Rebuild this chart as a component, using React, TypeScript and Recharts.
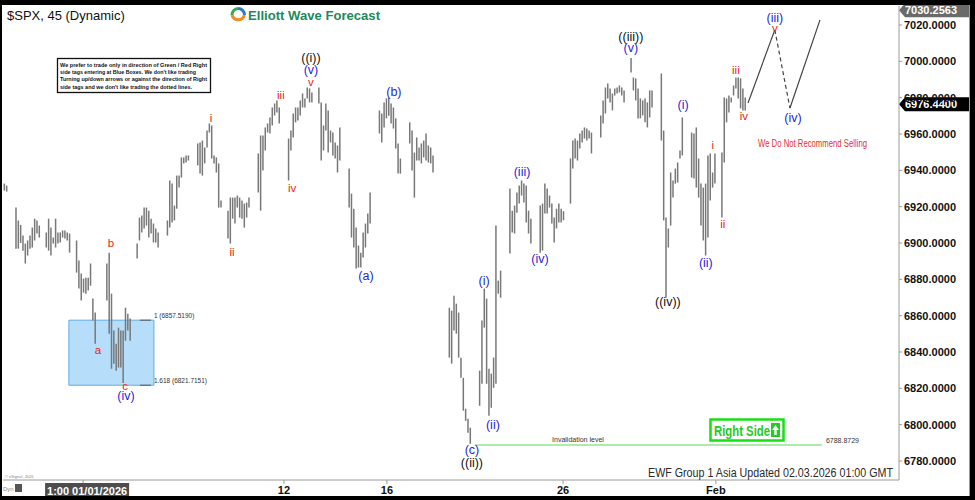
import {
  ComposedChart,
  Bar,
  Line,
  Scatter,
  XAxis,
  YAxis,
  ReferenceArea,
  ReferenceLine,
} from "recharts";

const FONT = '"Liberation Sans", Arial, Helvetica, sans-serif';

// 45 min bars, one row per session (highs / lows)
const highs: number[][] = [
  [6932.7, 6931.6],
  [6919.5, 6912.4, 6910.0, 6904.1, 6899.7, 6901.4, 6904.1, 6908.5, 6913.4, 6912.4, 6909.6],
  [6905.8, 6913.4, 6908.5, 6903.0, 6913.4, 6905.8, 6905.8, 6906.9, 6906.9, 6905.8, 6905.2],
  [6901.4, 6890.3, 6883.2, 6880.4, 6880.9, 6880.9, 6888.7, 6869.4, 6861.7],
  [6888.7, 6894.7, 6872.1, 6851.9, 6844.6, 6853.4, 6851.9, 6851.9, 6864.4, 6861.1, 6858.4],
  [6899.7, 6914.0, 6915.1, 6919.5, 6919.5, 6917.8, 6913.4, 6910.7, 6908.0, 6905.8],
  [6912.4, 6934.4, 6932.7, 6920.6, 6937.1, 6937.1, 6947.1, 6947.1, 6948.2, 6948.2],
  [6954.8, 6955.3, 6956.4, 6952.6, 6961.9, 6965.8, 6964.7, 6948.2, 6947.1, 6943.8, 6923.4],
  [6917.8, 6925.0, 6925.0, 6925.0, 6926.1, 6925.0, 6923.4, 6921.7, 6922.3, 6925.0],
  [6949.3, 6959.2, 6959.2, 6963.6, 6965.8, 6969.1, 6974.6, 6976.8, 6978.5, 6974.6],
  [6957.5, 6961.9, 6971.3, 6974.6, 6974.6, 6978.5, 6982.3, 6979.6, 6985.6, 6985.1, 6982.9],
  [6985.6, 6977.4, 6964.7, 6976.8, 6973.0, 6961.9, 6960.8, 6955.3, 6953.7, 6963.6],
  [6941.0, 6927.2, 6918.9, 6908.5, 6898.6, 6894.7, 6905.8, 6910.7, 6916.2, 6927.8],
  [6973.0, 6971.3, 6977.4, 6979.6, 6980.0, 6976.8, 6974.6, 6968.6, 6954.8, 6946.5],
  [6966.4, 6961.9, 6949.8, 6958.1, 6952.6, 6954.8, 6956.4, 6960.3, 6953.7, 6952.6, 6948.2],
  [6864.4, 6862.8, 6871.0, 6866.6, 6861.7, 6836.9, 6825.8, 6808.8, 6803.2, 6798.3],
  [6829.7, 6857.3, 6874.9, 6869.4, 6830.8, 6828.1, 6836.9, 6909.6, 6879.3, 6884.8],
  [6930.0, 6917.8, 6920.6, 6927.8, 6931.6, 6934.4, 6932.7, 6931.6, 6917.8, 6913.4],
  [6920.6, 6921.7, 6932.7, 6930.0, 6926.1, 6921.7, 6914.0, 6918.9, 6921.7, 6918.9, 6917.5],
  [6946.5, 6956.4, 6957.5, 6956.4, 6960.3, 6961.9, 6963.6, 6963.0, 6961.9, 6960.8],
  [6970.2, 6978.5, 6985.6, 6987.8, 6985.1, 6982.3, 6985.1, 6985.6, 6986.7, 6985.6, 6984.0],
  [7001.9, 6991.1, 6990.6, 6985.1, 6979.6, 6978.5, 6979.6, 6977.4, 6984.0, 6984.0],
  [6993.3, 6961.9, 6914.0, 6908.0, 6938.8, 6934.4, 6941.0, 6944.3, 6950.9, 6969.1],
  [6960.8, 6960.3, 6963.6, 6946.5, 6932.7, 6930.5, 6932.7, 6948.2, 6949.3, 6938.8, 6949.3],
  [6949.8, 6980.1, 6979.6, 6981.2, 6980.1, 6986.7, 6991.1, 6991.1, 6990.6, 6985.1, 6980.1],
];

const lows: number[][] = [
  [6928.9, 6928.3],
  [6896.9, 6896.9, 6900.0, 6895.8, 6888.7, 6893.1, 6896.9, 6897.5, 6901.4, 6905.2, 6903.0],
  [6897.5, 6895.8, 6893.1, 6899.7, 6897.5, 6899.7, 6900.3, 6903.0, 6902.5, 6901.4, 6894.7],
  [6883.7, 6874.9, 6868.3, 6872.7, 6872.1, 6873.8, 6876.5, 6857.3, 6844.6],
  [6868.3, 6850.1, 6830.8, 6833.6, 6829.7, 6831.4, 6831.4, 6823.0, 6846.2, 6851.9, 6846.2],
  [6891.4, 6901.4, 6905.8, 6908.0, 6909.6, 6903.0, 6905.2, 6900.3, 6900.3, 6897.5],
  [6904.1, 6908.5, 6911.3, 6912.4, 6918.9, 6930.5, 6936.0, 6943.8, 6944.3, 6945.4],
  [6942.7, 6938.2, 6937.1, 6943.8, 6952.6, 6960.8, 6946.5, 6943.8, 6938.8, 6919.5, 6919.5],
  [6902.5, 6899.7, 6913.4, 6910.7, 6919.5, 6914.0, 6913.4, 6908.5, 6914.0, 6919.5],
  [6927.8, 6917.8, 6939.9, 6950.9, 6960.8, 6960.3, 6964.7, 6970.2, 6971.9, 6965.8],
  [6934.4, 6950.9, 6958.1, 6966.4, 6967.5, 6970.2, 6974.6, 6974.6, 6979.6, 6977.4, 6977.4],
  [6976.8, 6945.4, 6950.9, 6961.9, 6949.8, 6955.3, 6948.2, 6946.5, 6938.8, 6945.4],
  [6919.5, 6903.0, 6897.5, 6885.9, 6886.5, 6886.5, 6892.0, 6897.5, 6905.2, 6910.7],
  [6960.3, 6955.3, 6963.6, 6968.6, 6970.0, 6965.8, 6963.0, 6952.0, 6938.2, 6938.2],
  [6954.8, 6939.9, 6925.0, 6945.4, 6945.4, 6943.8, 6947.1, 6945.4, 6944.3, 6943.8, 6938.8],
  [6836.9, 6833.6, 6851.9, 6850.1, 6836.9, 6825.8, 6807.7, 6802.1, 6795.5, 6789.5],
  [6810.4, 6822.5, 6853.4, 6822.5, 6804.9, 6809.3, 6820.3, 6822.5, 6872.1, 6869.9],
  [6894.2, 6905.8, 6905.2, 6916.7, 6921.7, 6926.1, 6922.3, 6911.3, 6905.2, 6899.7],
  [6894.7, 6895.8, 6916.2, 6916.2, 6919.5, 6910.7, 6900.3, 6908.0, 6911.3, 6911.3, 6912.5],
  [6921.7, 6941.0, 6946.5, 6945.4, 6952.0, 6955.3, 6957.5, 6956.4, 6957.5, 6949.3],
  [6958.1, 6965.8, 6971.3, 6979.6, 6977.4, 6973.0, 6981.2, 6982.3, 6982.9, 6981.2, 6977.4],
  [6993.9, 6984.0, 6978.5, 6968.6, 6968.6, 6970.2, 6966.4, 6963.6, 6969.1, 6974.6],
  [6956.4, 6912.4, 6869.9, 6897.5, 6909.6, 6925.0, 6932.7, 6933.3, 6946.5, 6948.2],
  [6936.0, 6935.5, 6930.5, 6925.0, 6909.6, 6901.4, 6893.1, 6903.0, 6923.4, 6930.5, 6932.7],
  [6914.0, 6944.3, 6966.4, 6971.9, 6977.4, 6981.2, 6985.1, 6979.6, 6974.1, 6973.0, 6973.0],
];

const FIRST_BAR_SLOT = 8;
const SESSION_SLOTS = 13;
const HOLIDAY_SESSION = 15; // MLK day gap before this session
const HOLIDAY_SLOTS = 4;

const LAST_CLOSE = 6976.44;
const TOP_PRICE = 7030.2563;
const INVALIDATION = 6788.8729;
const FIB_1 = 6857.519;
const FIB_1618 = 6821.7151;

const priceTicks = [7020, 7000, 6980, 6960, 6940, 6920, 6900, 6880, 6860, 6840, 6820, 6800, 6780];
const dateTicks = [41.8, 128, 172.2, 247.8, 313.4];
const dateLabels = ["1:00 01/01/2026", "12", "16", "26", "Feb"];

const waveText = [
  "b", "a", "c", "(iv)", "i", "ii", "iii", "iv", "v", "(v)", "((i))", "(b)", "(a)",
  "(i)", "(ii)", "(iii)", "(iv)", "(c)", "((ii))", "((iii))", "(v)", "(i)", "((iv))",
  "(ii)", "i", "ii", "iii", "iv", "(iii)", "v", "(iv)",
];
const waveTime = [
  53.8, 48.2, 59.8, 60.2, 96.7, 105.7, 126.7, 131.5, 139.6, 139.6, 139.6, 175.2, 163.2,
  213.9, 217.7, 230.2, 237.9, 208.7, 208.7, 276.9, 276.9, 299.3, 292.8,
  309.1, 312.1, 316.4, 322.0, 325.4, 338.7, 338.7, 346.5,
];
const wavePrice = [
  6900.0, 6841.1, 6821.3, 6815.8, 6968.8, 6895.1, 6981.5, 6930.3, 6988.6, 6995.2, 7001.8, 6983.1, 6881.8,
  6879.1, 6799.8, 6939.1, 6891.2, 6786.1, 6779.0, 7013.4, 7007.3, 6976.0, 6867.5,
  6889.0, 6954.0, 6910.5, 6995.2, 6969.9, 7023.9, 7018.4, 6968.8,
];

// projected path: last bar -> (iii) -> (iv) -> higher
const projTime = [327.2, 338.7, 345.2, 358.1];
const projPrice = [6977.1, 7017.3, 6974.3, 7022.8];

const sessionStart = (s: number) =>
  s === 0 ? FIRST_BAR_SLOT : s * SESSION_SLOTS + (s >= HOLIDAY_SESSION ? HOLIDAY_SLOTS : 0);

const bars = highs.flatMap((row, s) =>
  row.map((h, k) => ({ t: sessionStart(s) + k, range: [lows[s][k], h] }))
);
const waveLabels = waveText.map((text, i) => ({ t: waveTime[i], p: wavePrice[i], text }));
const proj = projTime.map((t, i) => ({ t, p: projPrice[i] }));

const BarShape = (props: any) => {
  const { x, y, width, height } = props;
  if (x == null || y == null) return null;
  const cx = x + width / 2;
  const top = Math.min(y, y + height);
  const h = Math.max(Math.abs(height), 1);
  return <line x1={cx} x2={cx} y1={top} y2={top + h} stroke="#787878" strokeWidth={1.5} />;
};

const WaveLabel = (props: any) => {
  const { cx, cy, payload } = props;
  const t: string = payload.text;
  const fill = t.startsWith("((") ? "#111111" : t.startsWith("(") ? "#1f1fd8" : "#e8221a";
  return (
    <text x={cx} y={cy} textAnchor="middle" dominantBaseline="central" fontFamily={FONT}
      fontSize={t.startsWith("(") ? 12.5 : 11.5} fill={fill} stroke="none" opacity={1}>
      {t}
    </text>
  );
};

const PriceTick = (props: any) => {
  const { x, y, payload } = props;
  return (
    <text x={x} y={y} dominantBaseline="central" fontFamily={FONT} fontSize={11}
      fontWeight="bold" fill="#111" stroke="none">
      {payload.value.toFixed(4)}
    </text>
  );
};

const DateTick = (props: any) => {
  const { x, y, index } = props;
  const label = dateLabels[index] ?? "";
  if (index === 0) {
    return (
      <g>
        <rect x={x - 38} y={y - 3} width={84} height={15} fill="#4d4d4d" stroke="none" />
        <text x={x + 4} y={y + 9} textAnchor="middle" fontFamily={FONT} fontSize={11}
          fontWeight="bold" fill="#fff" stroke="none">{label}</text>
      </g>
    );
  }
  return (
    <text x={x} y={y + 8} textAnchor="middle" fontFamily={FONT} fontSize={11}
      fontWeight="bold" fill="#111" stroke="none">{label}</text>
  );
};

const priceTag = (value: number, bg: string, dy: number) => (props: any) => {
  const { viewBox } = props;
  const x0 = viewBox.x + viewBox.width;
  const yc = viewBox.y + dy;
  return (
    <g>
      <polygon
        points={`${x0},${yc} ${x0 + 6},${yc - 7} ${x0 + 70},${yc - 7} ${x0 + 70},${yc + 7} ${x0 + 6},${yc + 7}`}
        fill={bg}
      />
      <text x={x0 + 6} y={yc} dominantBaseline="central" fontFamily={FONT} fontSize={11}
        fontWeight="bold" fill="#fff" stroke="none">{value.toFixed(4)}</text>
    </g>
  );
};

const fibLabel = (text: string) => (props: any) => {
  const { viewBox } = props;
  return (
    <text x={viewBox.x + viewBox.width + 3} y={viewBox.y - 2} fontFamily={FONT} fontSize={6.5}
      fill="#333" stroke="none">{text}</text>
  );
};

const invalidationLabel = (props: any) => {
  const { viewBox } = props;
  return (
    <g fontFamily={FONT} fontSize={7} fill="#333" stroke="none">
      <text x={viewBox.x + 103} y={viewBox.y - 3} textAnchor="middle">Invalidation level</text>
      <text x={viewBox.x + viewBox.width + 4} y={viewBox.y - 2}>{INVALIDATION.toFixed(4)}</text>
    </g>
  );
};

const disclaimer = [
  "We prefer to trade only in direction of Green / Red Right",
  "side tags entering at Blue Boxes. We don't like trading",
  "Turning up/down arrows or against the direction of Right",
  "side tags and we don't like trading the dotted lines.",
];

export default function App() {
  return (
    <div style={{ position: "fixed", left: 0, top: 0, width: 975, height: 500, background: "#fff", overflow: "hidden" }}>
      <ComposedChart width={975} height={500} data={bars} margin={{ top: 6, right: 6, bottom: 6, left: 3 }}>
        <XAxis dataKey="t" type="number" domain={[7.42, 392]} allowDataOverflow ticks={dateTicks}
          interval={0} height={14} tickSize={4} stroke="#9a9a9a" tick={<DateTick />} />
        <YAxis orientation="right" type="number" domain={[6769.54, 7030.46]} allowDataOverflow
          ticks={priceTicks} interval={0} width={70} tickSize={3} stroke="#9a9a9a" tick={<PriceTick />} />
        <ReferenceArea x1={35.7} x2={72.2} y1={FIB_1618} y2={FIB_1} fill="#b6ddf9" fillOpacity={1}
          stroke="#62ace6" strokeWidth={1} />
        <ReferenceLine segment={[{ x: 66.2, y: FIB_1 }, { x: 70.9, y: FIB_1 }]} stroke="#555"
          label={fibLabel(`1 (${FIB_1.toFixed(4)})`)} />
        <ReferenceLine segment={[{ x: 66.2, y: FIB_1618 }, { x: 70.9, y: FIB_1618 }]} stroke="#555"
          label={fibLabel(`1.618 (${FIB_1618.toFixed(4)})`)} />
        <ReferenceLine segment={[{ x: 210, y: INVALIDATION }, { x: 358.9, y: INVALIDATION }]}
          stroke="#8fe68f" strokeWidth={1.5} label={invalidationLabel} />
        <Bar dataKey="range" barSize={2} shape={<BarShape />} isAnimationActive={false} />
        <Line data={proj.slice(0, 2)} dataKey="p" stroke="#444" strokeWidth={1.2} dot={false}
          isAnimationActive={false} />
        <Line data={proj.slice(1, 3)} dataKey="p" stroke="#444" strokeWidth={1.2} strokeDasharray="4 3"
          dot={false} isAnimationActive={false} />
        <Line data={proj.slice(2, 4)} dataKey="p" stroke="#444" strokeWidth={1.2} dot={false}
          isAnimationActive={false} />
        <Scatter data={waveLabels} dataKey="p" fill="none" stroke="none" shape={<WaveLabel />}
          isAnimationActive={false} />
        <ReferenceLine y={LAST_CLOSE} stroke="none" label={priceTag(LAST_CLOSE, "#000", 0)} />
        <ReferenceLine y={TOP_PRICE} stroke="none" label={priceTag(TOP_PRICE, "#6a6a6a", 4)} />
      </ComposedChart>

      <svg width={975} height={500} style={{ position: "absolute", left: 0, top: 0, pointerEvents: "none" }}
        fontFamily={FONT}>
        {/* frame */}
        <rect x={0} y={0} width={975} height={5} fill="#000" />
        <rect x={0} y={0} width={2} height={500} fill="#000" />
        <rect x={970} y={0} width={5} height={500} fill="#000" />
        <rect x={0} y={496} width={975} height={4} fill="#000" />
        <line x1={969.5} y1={5} x2={969.5} y2={496} stroke="#999" />

        <text x={7} y={20} fontSize={13} fill="#111">$SPX, 45 (Dynamic)</text>

        {/* logo */}
        <g>
          <path d="M232 15 A6.5 6.5 0 0 1 238 8.5" stroke="#36a852" strokeWidth={3} fill="none" />
          <path d="M238 8.5 A6.5 6.5 0 0 1 244.5 15" stroke="#2a78d0" strokeWidth={3} fill="none" />
          <path d="M244.5 15 A6.5 6.5 0 0 1 232 15" stroke="#f28c24" strokeWidth={3} fill="none" />
          <text x={248} y={20} fontSize={12.5} fontWeight="bold" fill="#1e8a5b" textLength={132}
            lengthAdjust="spacingAndGlyphs">Elliott Wave Forecast</text>
        </g>

        {/* disclaimer */}
        <rect x={57.5} y={58.5} width={153} height={34} fill="#fff" stroke="#111" strokeWidth={1.3} />
        {disclaimer.map((line, i) => (
          <text key={i} x={60} y={66.5 + i * 7.4} fontSize={6.2} fontWeight="bold" fill="#111"
            textLength={[147, 136, 147, 132][i]} lengthAdjust="spacingAndGlyphs">{line}</text>
        ))}

        <text x={758} y={147} fontSize={10} fill="#e3302a" textLength={109}
          lengthAdjust="spacingAndGlyphs">We Do Not Recommend Selling</text>

        {/* right side tag */}
        <rect x={710.5} y={419.5} width={73} height={21} fill="#fff" stroke="#14e014" strokeWidth={2.5} />
        <text x={714} y={436} fontSize={14} fontWeight="bold" fill="#22cc22" textLength={56}
          lengthAdjust="spacingAndGlyphs">Right Side</text>
        <rect x={771} y={423} width={9} height={14} fill="#22cc22" />
        <polygon points="775.5,425 779,430 776.7,430 776.7,435 774.3,435 774.3,430 772,430" fill="#fff" />

        <text x={648} y={477} fontSize={12} fill="#2a2a2a" textLength={245}
          lengthAdjust="spacingAndGlyphs">EWF Group 1 Asia Updated 02.03.2026 01:00 GMT</text>

        <text x={5} y={478} fontSize={4} fill="#888">© eSignal, 2026</text>
        <text x={3} y={491} fontSize={6} fill="#888">Dyn</text>
        <rect x={15} y={484} width={7} height={8} fill="#555" />
      </svg>
    </div>
  );
}
